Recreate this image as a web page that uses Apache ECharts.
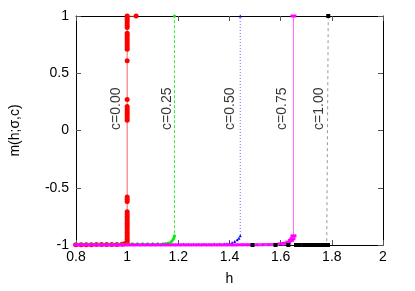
<!DOCTYPE html>
<html>
<head>
<meta charset="utf-8">
<script src="https://cdn.jsdelivr.net/npm/echarts@6/dist/echarts.min.js"></script>
<style>
html,body{margin:0;padding:0;background:#fff;}
#chart{width:415px;height:291px;}
</style>
</head>
<body>
<div id="chart"></div>
<script>
// ---- data ----
const xTicks = [0.8, 1, 1.2, 1.4, 1.6, 1.8, 2];
const yTicks = [-1, -0.5, 0, 0.5, 1];

// c = 0.00 (red)
const hC000 = [0.80,0.82,0.84,0.86,0.88,0.90,0.92,0.94,0.96,0.98,0.99,
  1.00,1.00,1.00,1.00,1.00,1.00,1.00,1.00,1.00,1.00,1.00,1.00,1.00,1.00,1.00,
  1.00,1.00,1.00,
  1.00,1.00,1.00,1.00,1.00,1.00,1.00,1.00,
  1.00,1.00,1.00,1.00,1.00,1.00,1.00,1.00,1.00,1.00,1.00,1.00,1.00,1.00,1.00,
  1.035];
const mC000 = [-0.997,-0.997,-0.997,-0.997,-0.996,-0.996,-0.996,-0.995,-0.995,-0.994,-0.99,
  -0.99,-0.97,-0.95,-0.93,-0.91,-0.89,-0.87,-0.85,-0.83,-0.81,-0.79,-0.77,-0.75,-0.73,-0.71,
  -0.62,-0.60,-0.58,
  0.09,0.11,0.13,0.15,0.17,0.19,0.21,0.27,
  0.61,0.71,0.73,0.75,0.77,0.79,0.81,0.83,0.85,0.90,0.92,0.94,0.96,0.98,1.00,
  1.00];

// c = 0.25 (green)
const hC025 = [0.80,0.82,0.84,0.86,0.88,0.90,0.92,0.94,0.96,0.98,1.00,1.02,1.04,1.06,1.08,1.10,1.12,1.14,
  1.15,1.16,1.17,1.175,1.18,1.183,1.185,1.185];
const mC025 = [-0.992,-0.992,-0.992,-0.992,-0.992,-0.992,-0.991,-0.991,-0.991,-0.991,-0.991,-0.990,-0.990,-0.990,-0.990,-0.990,-0.989,-0.988,
  -0.987,-0.983,-0.975,-0.965,-0.95,-0.935,-0.92,1.00];

// c = 0.50 (blue)
const hC050 = [0.80,0.82,0.84,0.86,0.88,0.90,0.92,0.94,0.96,0.98,1.00,1.02,1.04,1.06,1.08,1.10,1.12,1.14,1.16,1.18,
  1.20,1.22,1.24,1.26,1.28,1.30,1.32,1.34,1.36,1.38,
  1.39,1.40,1.41,1.42,1.43,1.437,1.442,1.442];
const mC050 = [-0.996,-0.996,-0.996,-0.996,-0.996,-0.996,-0.996,-0.996,-0.996,-0.996,-0.995,-0.995,-0.995,-0.995,-0.995,-0.995,-0.995,-0.995,-0.995,-0.995,
  -0.994,-0.994,-0.994,-0.994,-0.993,-0.993,-0.993,-0.992,-0.992,-0.991,
  -0.99,-0.985,-0.98,-0.97,-0.955,-0.94,-0.92,1.00];

// c = 0.75 (magenta)
const hC075 = [0.80,0.82,0.84,0.86,0.88,0.90,0.92,0.94,0.96,0.98,1.00,1.02,1.04,1.06,1.08,1.10,1.12,1.14,1.16,1.18,
  1.20,1.22,1.24,1.26,1.28,1.30,1.32,1.34,1.36,1.38,1.40,1.42,1.44,1.46,1.48,1.50,1.52,1.54,1.56,
  1.58,1.60,1.61,1.62,1.63,1.64,1.646,1.65,1.65];
const mC075 = [-0.999,-0.999,-0.999,-0.999,-0.999,-0.999,-0.999,-0.999,-0.999,-0.999,-0.999,-0.999,-0.999,-0.999,-0.999,-0.999,-0.999,-0.999,-0.999,-0.999,
  -0.999,-0.999,-0.999,-0.999,-0.999,-0.999,-0.999,-0.999,-0.999,-0.999,-0.999,-0.999,-0.998,-0.998,-0.998,-0.998,-0.998,-0.997,-0.997,
  -0.995,-0.99,-0.988,-0.985,-0.975,-0.96,-0.945,-0.92,1.00];

// c = 1.00 (black)
const hC100 = [1.49,1.58,1.63,1.66,1.675,1.69,1.70,1.71,1.72,1.73,1.74,1.75,1.76,1.765,1.77,1.775,1.78,1.785,1.786];
const mC100 = [-1.0,-1.0,-1.0,-1.0,-1.0,-1.0,-1.0,-1.0,-1.0,-1.0,-1.0,-1.0,-1.0,-1.0,-1.0,-1.0,-1.0,-1.0,1.00];

// curve labels (rotated text, centred on these points)
const labelText = ['c=0.00','c=0.25','c=0.50','c=0.75','c=1.00'];
const labelH = [0.956, 1.157, 1.404, 1.605, 1.749];
const labelM = [0.19, 0.19, 0.19, 0.19, 0.19];

// ---- chart ----
const FONT = '"Liberation Sans", Arial, Helvetica, sans-serif';
const zip = (a, b) => a.map((v, i) => [v, b[i]]);

const chart = echarts.init(document.getElementById('chart'), null, {renderer: 'canvas'});

function curve(name, h, m, color, lineColor, lineType, symbol, size, z) {
  return {
    name, type: 'line', data: zip(h, m),
    xAxisIndex: 0, yAxisIndex: 0,
    symbol, symbolSize: size, showSymbol: true,
    itemStyle: {color: color, borderWidth: 0},
    lineStyle: {color: lineColor, width: 1, type: lineType},
    animation: false, z: z, clip: true
  };
}

const axisCommon = {
  type: 'value', splitLine: {show: false},
  axisLine: {show: true, onZero: false, lineStyle: {color: '#000', width: 1}},
  axisTick: {show: true, inside: true, length: 5, lineStyle: {color: '#555'}}
};

chart.setOption({
  animation: false,
  backgroundColor: '#fff',
  textStyle: {fontFamily: FONT},
  grid: {left: 67, right: 32, top: 16, bottom: 44, containLabel: false},
  xAxis: [
    Object.assign({}, axisCommon, {
      min: xTicks[0], max: xTicks[xTicks.length - 1], interval: 0.2,
      position: 'bottom',
      name: 'h', nameLocation: 'middle', nameGap: 27,
      nameTextStyle: {fontSize: 14, color: '#000', fontFamily: FONT},
      axisLabel: {fontSize: 14, color: '#000', margin: 5, fontFamily: FONT}
    }),
    Object.assign({}, axisCommon, {
      min: xTicks[0], max: xTicks[xTicks.length - 1], interval: 0.2,
      position: 'top', axisLabel: {show: false}
    })
  ],
  yAxis: [
    Object.assign({}, axisCommon, {
      min: yTicks[0], max: yTicks[yTicks.length - 1], interval: 0.5,
      position: 'left',
      name: 'm(h;σ,c)', nameLocation: 'middle', nameGap: 54, nameRotate: 90,
      nameTextStyle: {fontSize: 14, color: '#000', fontFamily: FONT},
      axisLabel: {fontSize: 14, color: '#000', margin: 7, fontFamily: FONT}
    }),
    Object.assign({}, axisCommon, {
      min: yTicks[0], max: yTicks[yTicks.length - 1], interval: 0.5,
      position: 'right', axisLabel: {show: false}
    })
  ],
  series: [
    curve('c=0.00', hC000, mC000, '#ff0000', '#ff6060', 'solid', 'circle', 5, 2),
    curve('c=0.25', hC025, mC025, '#00ee00', '#33ee33', [3, 2], 'circle', 3, 3),
    curve('c=0.50', hC050, mC050, '#0000ff', '#6666ff', [1, 2], 'triangle', 3, 4),
    curve('c=0.75', hC075, mC075, '#ff00ff', '#ff66ff', 'solid', 'rect', [6, 3], 5),
    curve('c=1.00', hC100, mC100, '#000000', '#999999', [3, 3], 'rect', 4, 6),
    {
      name: 'labels', type: 'scatter', symbolSize: 0,
      data: labelH.map((h, i) => ({value: [h, labelM[i]], name: labelText[i]})),
      label: {
        show: true, position: 'inside', rotate: 90, align: 'center', verticalAlign: 'middle',
        formatter: p => p.name, fontSize: 14, color: '#000', fontFamily: FONT
      },
      silent: true, animation: false, z: 10
    }
  ]
});
</script>
</body>
</html>
